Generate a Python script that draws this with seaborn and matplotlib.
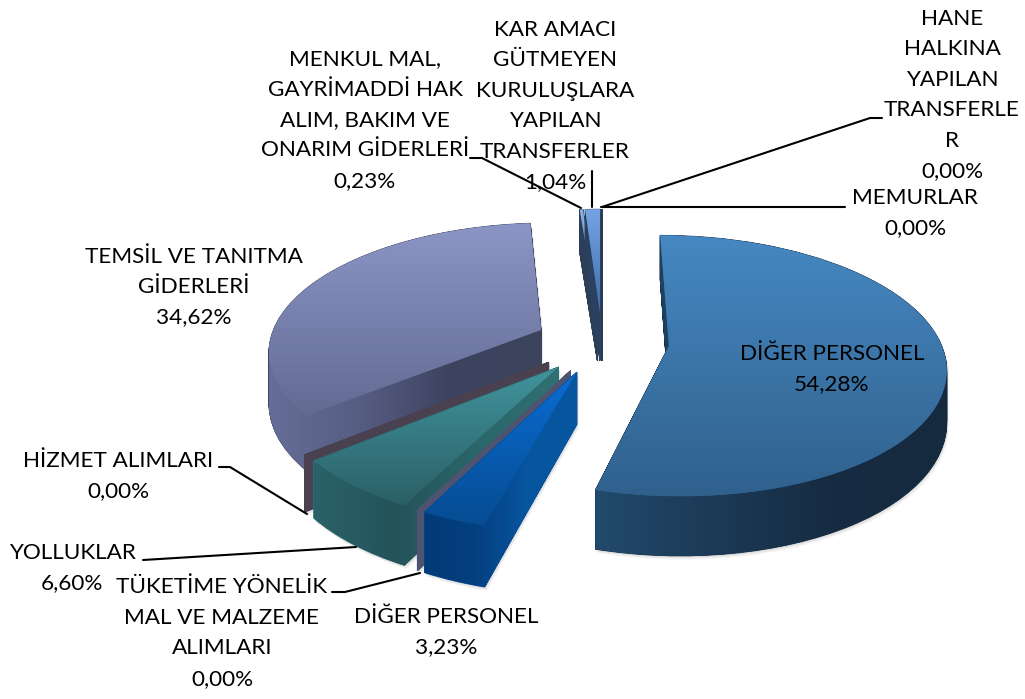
import numpy as np
import seaborn as sns
import matplotlib
matplotlib.use('Agg')
import matplotlib.pyplot as plt
from matplotlib import transforms as mtransforms
from matplotlib.lines import Line2D
from matplotlib.patches import PathPatch
from matplotlib.path import Path

# veriler
kalemler = ['DİĞER PERSONEL', 'DİĞER PERSONEL', 'TÜKETİME YÖNELİK\nMAL VE MALZEME\nALIMLARI',
            'YOLLUKLAR', 'HİZMET ALIMLARI', 'TEMSİL VE TANITMA\nGİDERLERİ',
            'MENKUL MAL,\nGAYRİMADDİ HAK\nALIM, BAKIM VE\nONARIM GİDERLERİ',
            'KAR AMACI\nGÜTMEYEN\nKURULUŞLARA\nYAPILAN\nTRANSFERLER',
            'HANE\nHALKINA\nYAPILAN\nTRANSFERLE\nR', 'MEMURLAR']
oranlar = [54.28, 3.23, 0.00, 6.60, 0.00, 34.62, 0.23, 1.04, 0.00, 0.00]
etiketler = ['54,28%', '3,23%', '0,00%', '6,60%', '0,00%', '34,62%', '0,23%', '1,04%', '0,00%', '0,00%']

# renkler
ust_renk = [['#4688c2', '#30618d'], ['#0b6cd2', '#064c92'], ['#50567a', '#50567a'],
            ['#41949d', '#2b6067'], ['#4a4150', '#4a4150'], ['#8c96c6', '#636b93'],
            ['#8fb0e0', '#44668f'], ['#76a3e3', '#3f6cab'], ['#333b55', '#333b55'],
            ['#333b55', '#333b55']]
yan_renk = [['#214a6c', '#1c3a57', '#162c42', '#162a3f'], ['#033a78', '#043f80', '#07559f', '#07559f'],
            ['#4e5470', '#4e5470'], ['#2a6268', '#24535a', '#2a666a', '#2f7174'], ['#4a4150', '#4a4150'],
            ['#666e98', '#565d82', '#3c4360', '#3c435c'], ['#2c3f57', '#2c3f57'], ['#2b4160', '#2b4160'],
            ['#2c3f57', '#2c3f57'], ['#2c3f57', '#2c3f57']]
cizim_sirasi = [8, 9, 6, 7, 5, 4, 3, 2, 1, 0]

# etiket yerleri (piksel)
yazi_yeri = [(832, 369), (446, 632), (222, 633), (72, 568), (118, 476), (194, 287), (365, 120), (555, 106),
             (952, 95), (915, 213)]
kilavuzlar = [[(470, 158), (482, 158), (581, 208)], [(592, 171), (592, 207)],
              [(882, 118), (870, 118), (602, 207)], [(845, 207), (601, 207)],
              [(219, 467), (230, 467), (307, 514)], [(143, 560), (356, 547)],
              [(332, 592), (345, 592), (420, 573)]]

W, H = 1025, 699
merkez_x, merkez_y, olcek = 602, 342, 280
egim, bakis, yukseklik = 0.465, 0.154, 0.18


class Egim(mtransforms.Transform):
    input_dims = 2
    output_dims = 2

    def __init__(self, z=0.0):
        super().__init__()
        self.z = z

    def transform_non_affine(self, xy):
        xy = np.asarray(xy, dtype=float)
        w = 1 + bakis * xy[:, 1]
        return np.column_stack([xy[:, 0] / w, (egim * xy[:, 1] + self.z) / w])


def yan_yol(wedge):
    # dilimin yan yuzeyi: katmanlar + iki kesit
    yol = wedge.get_path()
    parcalar = [Egim(z).transform_path(yol) for z in np.linspace(-yukseklik, 0, 40)]
    t1, t2 = np.deg2rad([wedge.theta1, wedge.theta2])
    cx, cy = wedge.center
    for t in (t1, t2):
        p = np.array([[cx, cy], [cx + wedge.r * np.cos(t), cy + wedge.r * np.sin(t)]])
        ust, alt = Egim(0).transform(p), Egim(-yukseklik).transform(p)
        parcalar.append(Path(np.vstack([ust, alt[::-1], ust[:1]]), closed=True))
    return Path.make_compound_path(*parcalar)


def boya(ax, yol, renkler, dikey, z, kirp):
    b = yol.get_extents()
    cmap = sns.blend_palette(renkler, as_cmap=True)
    g = np.linspace(0, 1, 256)
    g = g[:, None] if dikey else g[None, :]
    im = ax.imshow(g, cmap=cmap, vmin=0, vmax=1, aspect='auto', origin='upper',
                   extent=(b.x0, b.x1, b.y0, b.y1), zorder=z, interpolation='bilinear')
    im.set_clip_path(kirp)


sns.set_theme(style='white')
plt.rcParams['font.family'] = ['Lato', 'DejaVu Sans']

fig = plt.figure(figsize=(W / 100, H / 100), dpi=100)
ax = fig.add_axes([0, 0, 1, 1])

wedges, _ = ax.pie(oranlar, explode=[0.24] * len(oranlar), startangle=90, counterclock=False, radius=0.97, normalize=True)

for sira, i in enumerate(cizim_sirasi):
    w = wedges[i]
    z = 2 + sira * 4
    yan = yan_yol(w)
    # yumusak golge
    for d, a in ((0.014, 0.04), (0.009, 0.06), (0.004, 0.08)):
        golge = mtransforms.Affine2D().translate(d * 0.5, -d).transform_path(yan)
        ax.add_patch(PathPatch(golge, fc='#000000', ec='none', alpha=a, zorder=z))
    alan = PathPatch(yan, fc=yan_renk[i][-1], ec=yan_renk[i][-1], lw=0.6, zorder=z + 1, transform=ax.transData)
    ax.add_patch(alan)
    boya(ax, yan, yan_renk[i], False, z + 1.5, alan)
    w.set_transform(Egim(0) + ax.transData)
    w.set_facecolor(ust_renk[i][1])
    w.set_edgecolor('none')
    w.set_linewidth(0)
    w.set_zorder(z + 2)
    if oranlar[i] > 0:
        boya(ax, Egim(0).transform_path(w.get_path()), ust_renk[i], True, z + 2.5, w)

ax.set_xlim(-merkez_x / olcek, (W - merkez_x) / olcek)
ax.set_ylim(-(H - merkez_y) / olcek, merkez_y / olcek)
ax.set_aspect('auto')
ax.axis('off')

for ad, oran, (x, y) in zip(kalemler, etiketler, yazi_yeri):
    fig.text(x / W, 1 - y / H, ad + '\n' + oran, ha='center', va='center', ma='center', fontsize=16.2,
             color='black', linespacing=1.65, zorder=100)

for k in kilavuzlar:
    xs, ys = zip(*k)
    fig.add_artist(Line2D(np.array(xs) / W, 1 - np.array(ys) / H, color='black', lw=1.5, zorder=90))

fig.savefig('out.png', dpi=100)
